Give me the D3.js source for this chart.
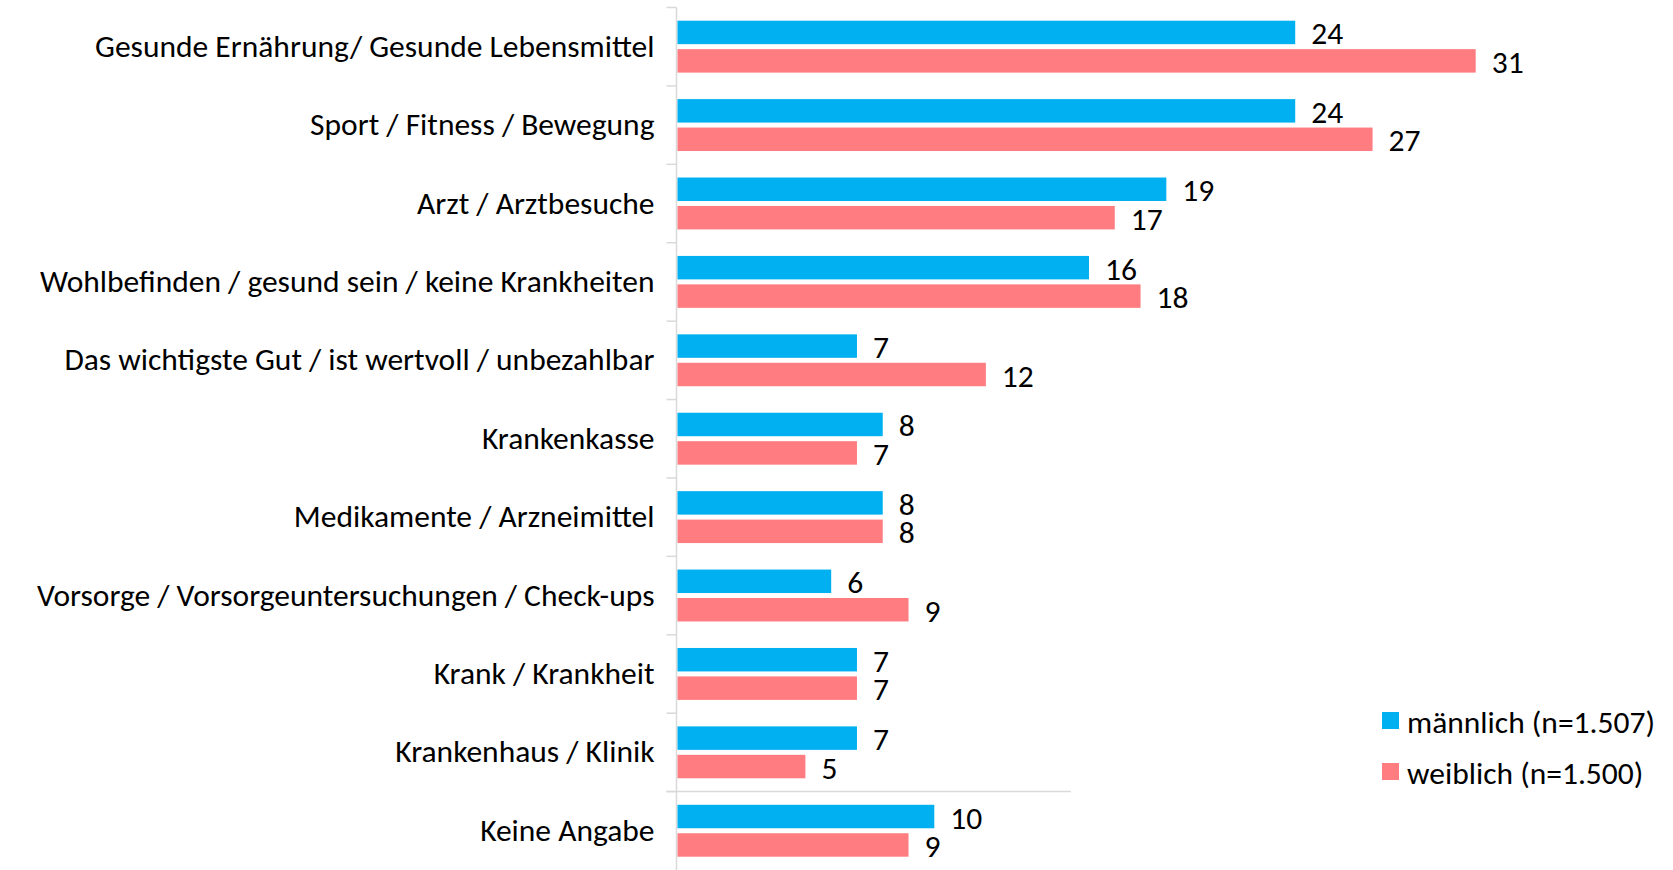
<!DOCTYPE html>
<html>
<head>
    <meta charset="utf-8">
    <title>Gesundheit - Assoziationen</title>
</head>
<body>
<style type="text/css">
    body {
        margin: 0;
        background: #fff;
    }

    #renderer {
        width: 1673px;
        height: 870px;
        background: #fff;
        font-family: Carlito, Calibri, Lato, sans-serif;
    }
</style>
<script type="text/javascript" src="https://cdnjs.cloudflare.com/ajax/libs/d3/7.8.5/d3.min.js"></script>
<svg id="renderer"></svg>

<script type="text/javascript">
    // data
    var categories = [
        'Gesunde Ernährung/ Gesunde Lebensmittel',
        'Sport / Fitness / Bewegung',
        'Arzt / Arztbesuche',
        'Wohlbefinden / gesund sein / keine Krankheiten',
        'Das wichtigste Gut / ist wertvoll / unbezahlbar',
        'Krankenkasse',
        'Medikamente / Arzneimittel',
        'Vorsorge / Vorsorgeuntersuchungen / Check-ups',
        'Krank / Krankheit',
        'Krankenhaus / Klinik',
        'Keine Angabe'
    ];
    var seriesNames = ['männlich (n=1.507)', 'weiblich (n=1.500)'];
    var maleValues = [24, 24, 19, 16, 7, 8, 8, 6, 7, 7, 10];
    var femaleValues = [31, 27, 17, 18, 12, 7, 8, 9, 7, 5, 9];

    var colors = ['#00b0f0', '#ff7c80'];
    var fontSize = 31.5;

    var root = d3.select('#renderer');

    var totalWidth = 1673;
    var totalHeight = 870;
    var axisX = 676.5;
    var paddingTop = 7.5;

    // scales
    var x = d3.scaleLinear()
        .domain([0, 40])
        .range([axisX, axisX + 40 * 25.78]);

    var y = d3.scaleBand()
        .domain(categories)
        .range([paddingTop, totalHeight])
        .paddingInner(0)
        .paddingOuter(0);

    var ySub = d3.scaleBand()
        .domain([0, 1])
        .range([13.2, y.bandwidth() - 13.3])
        .paddingInner(0.175);

    var rows = categories.map(function (c, i) {
        return { name: c, values: [maleValues[i], femaleValues[i]] };
    });

    // category axis (left)
    var yAxis = d3.axisLeft(y).tickSize(0).tickPadding(22);
    var axisG = root.append('g')
        .attr('transform', 'translate(' + axisX + ',0)')
        .call(yAxis);
    axisG.select('.domain').remove();
    axisG.selectAll('text')
        .attr('font-size', fontSize)
        .attr('font-family', 'Carlito, Calibri, Lato, sans-serif')
        .attr('fill', '#000');

    // tick marks between categories
    var boundaries = categories.map(function (c) { return y(c); });
    root.selectAll('.tickmark')
        .data(boundaries)
        .enter().append('line')
        .attr('class', 'tickmark')
        .attr('x1', axisX - 10)
        .attr('x2', axisX)
        .attr('y1', function (d) { return d; })
        .attr('y2', function (d) { return d; })
        .attr('stroke', '#d9d9d9')
        .attr('stroke-width', 1.5);

    // the separating line above "Keine Angabe"
    var lastBoundary = y(categories[categories.length - 1]);
    root.append('line')
        .attr('x1', axisX - 10)
        .attr('x2', x(15.3))
        .attr('y1', lastBoundary)
        .attr('y2', lastBoundary)
        .attr('stroke', '#d9d9d9')
        .attr('stroke-width', 1.5);

    root.append('line')
        .attr('x1', axisX)
        .attr('x2', axisX)
        .attr('y1', paddingTop)
        .attr('y2', totalHeight)
        .attr('stroke', '#d9d9d9')
        .attr('stroke-width', 1.5);

    // bars
    var groups = root.selectAll('.group')
        .data(rows)
        .enter().append('g')
        .attr('class', 'group')
        .attr('transform', function (d) { return 'translate(0,' + y(d.name) + ')'; });

    groups.selectAll('rect')
        .data(function (d) { return d.values; })
        .enter().append('rect')
        .attr('x', x(0) + 1)
        .attr('y', function (d, i) { return ySub(i); })
        .attr('width', function (d) { return x(d) - x(0) - 1; })
        .attr('height', ySub.bandwidth())
        .attr('fill', function (d, i) { return colors[i]; });

    // value labels
    groups.selectAll('.value')
        .data(function (d) { return d.values; })
        .enter().append('text')
        .attr('class', 'value')
        .text(function (d) { return d; })
        .attr('x', function (d) { return x(d) + 16; })
        .attr('y', function (d, i) { return ySub(i) + ySub.bandwidth() / 2 + 1; })
        .attr('dominant-baseline', 'central')
        .attr('font-size', fontSize)
        .attr('fill', '#000');

    // legend
    var legend = root.selectAll('.legend')
        .data(seriesNames)
        .enter().append('g')
        .attr('class', 'legend')
        .attr('transform', function (d, i) { return 'translate(1382,' + (712 + i * 51) + ')'; });

    legend.append('rect')
        .attr('width', 17)
        .attr('height', 17)
        .attr('fill', function (d, i) { return colors[i]; });

    legend.append('text')
        .text(function (d) { return d; })
        .attr('x', 25)
        .attr('y', 9.5)
        .attr('dominant-baseline', 'central')
        .attr('font-size', fontSize)
        .attr('fill', '#000');
</script>
</body>
</html>
